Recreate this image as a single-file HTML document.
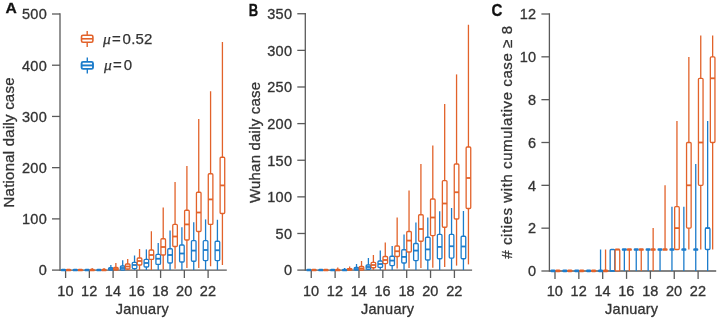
<!DOCTYPE html>
<html><head><meta charset="utf-8"><title>Figure</title>
<style>
html,body{margin:0;padding:0;background:#fff;}
body{width:720px;height:322px;overflow:hidden;position:relative;font-family:"Liberation Sans",sans-serif;}
</style></head><body>
<svg width="720" height="322" viewBox="0 0 720 322" style="position:absolute;left:0;top:0;will-change:transform"><rect width="720" height="322" fill="#fff"/><g stroke="#5a5a5a" stroke-width="1.3" fill="none"><line x1="60.0" y1="13.25" x2="60.0" y2="270.85"/><line x1="60.0" y1="270.1" x2="226.8" y2="270.1"/><line x1="52.0" y1="270.10" x2="60.0" y2="270.10"/><line x1="52.0" y1="218.88" x2="60.0" y2="218.88"/><line x1="52.0" y1="167.66" x2="60.0" y2="167.66"/><line x1="52.0" y1="116.44" x2="60.0" y2="116.44"/><line x1="52.0" y1="65.22" x2="60.0" y2="65.22"/><line x1="52.0" y1="14.00" x2="60.0" y2="14.00"/><line x1="65.60" y1="270.1" x2="65.60" y2="278.0"/><line x1="89.35" y1="270.1" x2="89.35" y2="278.0"/><line x1="113.10" y1="270.1" x2="113.10" y2="278.0"/><line x1="136.85" y1="270.1" x2="136.85" y2="278.0"/><line x1="160.60" y1="270.1" x2="160.60" y2="278.0"/><line x1="184.35" y1="270.1" x2="184.35" y2="278.0"/><line x1="208.10" y1="270.1" x2="208.10" y2="278.0"/></g><g font-family="Liberation Sans, sans-serif" font-size="14" fill="#333333" stroke="#333333" stroke-width="0.3"><text x="47.00" y="275.40" text-anchor="end" font-size="14.5" letter-spacing="0.3">0</text><text x="47.00" y="224.18" text-anchor="end" font-size="14.5" letter-spacing="0.3">100</text><text x="47.00" y="172.96" text-anchor="end" font-size="14.5" letter-spacing="0.3">200</text><text x="47.00" y="121.74" text-anchor="end" font-size="14.5" letter-spacing="0.3">300</text><text x="47.00" y="70.52" text-anchor="end" font-size="14.5" letter-spacing="0.3">400</text><text x="47.00" y="19.30" text-anchor="end" font-size="14.5" letter-spacing="0.3">500</text><text x="65.40" y="296.4" text-anchor="middle" font-size="14.5">10</text><text x="89.15" y="296.4" text-anchor="middle" font-size="14.5">12</text><text x="112.90" y="296.4" text-anchor="middle" font-size="14.5">14</text><text x="136.65" y="296.4" text-anchor="middle" font-size="14.5">16</text><text x="160.40" y="296.4" text-anchor="middle" font-size="14.5">18</text><text x="184.15" y="296.4" text-anchor="middle" font-size="14.5">20</text><text x="207.90" y="296.4" text-anchor="middle" font-size="14.5">22</text><text x="142.20" y="313.6" text-anchor="middle" font-size="14.5" textLength="53">January</text><text transform="translate(14.4,142.5) rotate(-90)" text-anchor="middle" font-size="15" textLength="130">National daily case</text></g><text x="5.6" y="13.1" font-family="Liberation Sans, sans-serif" font-weight="bold" font-size="15" fill="#111" stroke="#111" stroke-width="0.3" textLength="11.3" lengthAdjust="spacingAndGlyphs">A</text><rect x="60.95" y="268.65" width="5.1" height="2.7" rx="1.2" fill="#1c7ccb"/><rect x="65.95" y="268.65" width="5.1" height="2.7" rx="1.2" fill="#e2622a"/><rect x="72.79" y="268.65" width="5.1" height="2.7" rx="1.2" fill="#1c7ccb"/><rect x="77.79" y="268.65" width="5.1" height="2.7" rx="1.2" fill="#e2622a"/><rect x="84.63" y="268.65" width="5.1" height="2.7" rx="1.2" fill="#1c7ccb"/><line x1="92.18" y1="268.00" x2="92.18" y2="270.00" stroke="#e2622a" stroke-width="1.3"/><rect x="89.63" y="268.65" width="5.1" height="2.7" rx="1.2" fill="#e2622a"/><line x1="99.02" y1="269.00" x2="99.02" y2="270.00" stroke="#1c7ccb" stroke-width="1.3"/><rect x="96.47" y="268.65" width="5.1" height="2.7" rx="1.2" fill="#1c7ccb"/><line x1="104.02" y1="268.00" x2="104.02" y2="270.00" stroke="#e2622a" stroke-width="1.3"/><rect x="101.47" y="268.65" width="5.1" height="2.7" rx="1.2" fill="#e2622a"/><line x1="110.86" y1="265.00" x2="110.86" y2="267.75" stroke="#1c7ccb" stroke-width="1.3"/><rect x="108.56" y="267.75" width="4.6" height="2.25" rx="1" fill="#fff" stroke="#1c7ccb" stroke-width="1.3"/><line x1="108.56" y1="269.00" x2="113.16" y2="269.00" stroke="#1c7ccb" stroke-width="1.8"/><line x1="115.86" y1="263.00" x2="115.86" y2="267.40" stroke="#e2622a" stroke-width="1.3"/><rect x="113.56" y="267.40" width="4.6" height="2.60" rx="1" fill="#fff" stroke="#e2622a" stroke-width="1.3"/><line x1="113.56" y1="269.00" x2="118.16" y2="269.00" stroke="#e2622a" stroke-width="1.8"/><line x1="122.70" y1="260.25" x2="122.70" y2="266.00" stroke="#1c7ccb" stroke-width="1.3"/><rect x="120.40" y="266.00" width="4.6" height="4.00" rx="1" fill="#fff" stroke="#1c7ccb" stroke-width="1.3"/><line x1="120.40" y1="268.00" x2="125.00" y2="268.00" stroke="#1c7ccb" stroke-width="1.8"/><line x1="127.70" y1="259.00" x2="127.70" y2="264.00" stroke="#e2622a" stroke-width="1.3"/><line x1="127.70" y1="269.00" x2="127.70" y2="270.00" stroke="#e2622a" stroke-width="1.3"/><rect x="125.40" y="264.00" width="4.6" height="5.00" rx="1" fill="#fff" stroke="#e2622a" stroke-width="1.3"/><line x1="125.40" y1="266.50" x2="130.00" y2="266.50" stroke="#e2622a" stroke-width="1.8"/><line x1="134.54" y1="255.50" x2="134.54" y2="262.40" stroke="#1c7ccb" stroke-width="1.3"/><line x1="134.54" y1="268.60" x2="134.54" y2="270.00" stroke="#1c7ccb" stroke-width="1.3"/><rect x="132.24" y="262.40" width="4.6" height="6.20" rx="1" fill="#fff" stroke="#1c7ccb" stroke-width="1.3"/><line x1="132.24" y1="265.00" x2="136.84" y2="265.00" stroke="#1c7ccb" stroke-width="1.8"/><line x1="139.54" y1="249.00" x2="139.54" y2="258.00" stroke="#e2622a" stroke-width="1.3"/><line x1="139.54" y1="265.00" x2="139.54" y2="270.00" stroke="#e2622a" stroke-width="1.3"/><rect x="137.24" y="258.00" width="4.6" height="7.00" rx="1" fill="#fff" stroke="#e2622a" stroke-width="1.3"/><line x1="137.24" y1="261.00" x2="141.84" y2="261.00" stroke="#e2622a" stroke-width="1.8"/><line x1="146.38" y1="249.40" x2="146.38" y2="259.40" stroke="#1c7ccb" stroke-width="1.3"/><line x1="146.38" y1="267.00" x2="146.38" y2="270.00" stroke="#1c7ccb" stroke-width="1.3"/><rect x="144.08" y="259.40" width="4.6" height="7.60" rx="1" fill="#fff" stroke="#1c7ccb" stroke-width="1.3"/><line x1="144.08" y1="263.00" x2="148.68" y2="263.00" stroke="#1c7ccb" stroke-width="1.8"/><line x1="151.38" y1="231.25" x2="151.38" y2="250.00" stroke="#e2622a" stroke-width="1.3"/><line x1="151.38" y1="259.40" x2="151.38" y2="270.00" stroke="#e2622a" stroke-width="1.3"/><rect x="149.08" y="250.00" width="4.6" height="9.40" rx="1" fill="#fff" stroke="#e2622a" stroke-width="1.3"/><line x1="149.08" y1="255.00" x2="153.68" y2="255.00" stroke="#e2622a" stroke-width="1.8"/><line x1="158.22" y1="243.00" x2="158.22" y2="254.40" stroke="#1c7ccb" stroke-width="1.3"/><line x1="158.22" y1="264.40" x2="158.22" y2="270.00" stroke="#1c7ccb" stroke-width="1.3"/><rect x="155.92" y="254.40" width="4.6" height="10.00" rx="1" fill="#fff" stroke="#1c7ccb" stroke-width="1.3"/><line x1="155.92" y1="258.75" x2="160.52" y2="258.75" stroke="#1c7ccb" stroke-width="1.8"/><line x1="163.22" y1="207.50" x2="163.22" y2="238.75" stroke="#e2622a" stroke-width="1.3"/><line x1="163.22" y1="255.00" x2="163.22" y2="269.40" stroke="#e2622a" stroke-width="1.3"/><rect x="160.92" y="238.75" width="4.6" height="16.25" rx="1" fill="#fff" stroke="#e2622a" stroke-width="1.3"/><line x1="160.92" y1="247.00" x2="165.52" y2="247.00" stroke="#e2622a" stroke-width="1.8"/><line x1="170.06" y1="230.60" x2="170.06" y2="248.75" stroke="#1c7ccb" stroke-width="1.3"/><line x1="170.06" y1="263.00" x2="170.06" y2="270.00" stroke="#1c7ccb" stroke-width="1.3"/><rect x="167.76" y="248.75" width="4.6" height="14.25" rx="1" fill="#fff" stroke="#1c7ccb" stroke-width="1.3"/><line x1="167.76" y1="255.00" x2="172.36" y2="255.00" stroke="#1c7ccb" stroke-width="1.8"/><line x1="175.06" y1="182.00" x2="175.06" y2="224.40" stroke="#e2622a" stroke-width="1.3"/><line x1="175.06" y1="246.50" x2="175.06" y2="268.75" stroke="#e2622a" stroke-width="1.3"/><rect x="172.76" y="224.40" width="4.6" height="22.10" rx="1" fill="#fff" stroke="#e2622a" stroke-width="1.3"/><line x1="172.76" y1="236.50" x2="177.36" y2="236.50" stroke="#e2622a" stroke-width="1.8"/><line x1="181.90" y1="227.25" x2="181.90" y2="245.00" stroke="#1c7ccb" stroke-width="1.3"/><line x1="181.90" y1="262.00" x2="181.90" y2="270.00" stroke="#1c7ccb" stroke-width="1.3"/><rect x="179.60" y="245.00" width="4.6" height="17.00" rx="1" fill="#fff" stroke="#1c7ccb" stroke-width="1.3"/><line x1="179.60" y1="253.50" x2="184.20" y2="253.50" stroke="#1c7ccb" stroke-width="1.8"/><line x1="186.90" y1="166.00" x2="186.90" y2="210.25" stroke="#e2622a" stroke-width="1.3"/><line x1="186.90" y1="240.00" x2="186.90" y2="268.00" stroke="#e2622a" stroke-width="1.3"/><rect x="184.60" y="210.25" width="4.6" height="29.75" rx="1" fill="#fff" stroke="#e2622a" stroke-width="1.3"/><line x1="184.60" y1="224.40" x2="189.20" y2="224.40" stroke="#e2622a" stroke-width="1.8"/><line x1="193.74" y1="222.25" x2="193.74" y2="240.60" stroke="#1c7ccb" stroke-width="1.3"/><line x1="193.74" y1="261.25" x2="193.74" y2="270.00" stroke="#1c7ccb" stroke-width="1.3"/><rect x="191.44" y="240.60" width="4.6" height="20.65" rx="1" fill="#fff" stroke="#1c7ccb" stroke-width="1.3"/><line x1="191.44" y1="250.60" x2="196.04" y2="250.60" stroke="#1c7ccb" stroke-width="1.8"/><line x1="198.74" y1="119.00" x2="198.74" y2="192.25" stroke="#e2622a" stroke-width="1.3"/><line x1="198.74" y1="231.50" x2="198.74" y2="268.00" stroke="#e2622a" stroke-width="1.3"/><rect x="196.44" y="192.25" width="4.6" height="39.25" rx="1" fill="#fff" stroke="#e2622a" stroke-width="1.3"/><line x1="196.44" y1="212.50" x2="201.04" y2="212.50" stroke="#e2622a" stroke-width="1.8"/><line x1="205.58" y1="219.40" x2="205.58" y2="240.60" stroke="#1c7ccb" stroke-width="1.3"/><line x1="205.58" y1="260.60" x2="205.58" y2="270.00" stroke="#1c7ccb" stroke-width="1.3"/><rect x="203.28" y="240.60" width="4.6" height="20.00" rx="1" fill="#fff" stroke="#1c7ccb" stroke-width="1.3"/><line x1="203.28" y1="250.00" x2="207.88" y2="250.00" stroke="#1c7ccb" stroke-width="1.8"/><line x1="210.58" y1="91.25" x2="210.58" y2="173.75" stroke="#e2622a" stroke-width="1.3"/><line x1="210.58" y1="224.40" x2="210.58" y2="266.25" stroke="#e2622a" stroke-width="1.3"/><rect x="208.28" y="173.75" width="4.6" height="50.65" rx="1" fill="#fff" stroke="#e2622a" stroke-width="1.3"/><line x1="208.28" y1="199.40" x2="212.88" y2="199.40" stroke="#e2622a" stroke-width="1.8"/><line x1="217.42" y1="219.75" x2="217.42" y2="241.25" stroke="#1c7ccb" stroke-width="1.3"/><line x1="217.42" y1="260.60" x2="217.42" y2="270.00" stroke="#1c7ccb" stroke-width="1.3"/><rect x="215.12" y="241.25" width="4.6" height="19.35" rx="1" fill="#fff" stroke="#1c7ccb" stroke-width="1.3"/><line x1="215.12" y1="250.25" x2="219.72" y2="250.25" stroke="#1c7ccb" stroke-width="1.8"/><line x1="222.42" y1="42.00" x2="222.42" y2="157.25" stroke="#e2622a" stroke-width="1.3"/><line x1="222.42" y1="213.50" x2="222.42" y2="265.00" stroke="#e2622a" stroke-width="1.3"/><rect x="220.12" y="157.25" width="4.6" height="56.25" rx="1" fill="#fff" stroke="#e2622a" stroke-width="1.3"/><line x1="220.12" y1="185.40" x2="224.72" y2="185.40" stroke="#e2622a" stroke-width="1.8"/><g stroke="#5a5a5a" stroke-width="1.3" fill="none"><line x1="305.3" y1="13.0" x2="305.3" y2="270.85"/><line x1="305.3" y1="270.1" x2="472.1" y2="270.1"/><line x1="297.3" y1="270.10" x2="305.3" y2="270.10"/><line x1="297.3" y1="233.48" x2="305.3" y2="233.48"/><line x1="297.3" y1="196.86" x2="305.3" y2="196.86"/><line x1="297.3" y1="160.24" x2="305.3" y2="160.24"/><line x1="297.3" y1="123.61" x2="305.3" y2="123.61"/><line x1="297.3" y1="86.99" x2="305.3" y2="86.99"/><line x1="297.3" y1="50.37" x2="305.3" y2="50.37"/><line x1="297.3" y1="13.75" x2="305.3" y2="13.75"/><line x1="311.25" y1="270.1" x2="311.25" y2="278.0"/><line x1="335.11" y1="270.1" x2="335.11" y2="278.0"/><line x1="358.97" y1="270.1" x2="358.97" y2="278.0"/><line x1="382.83" y1="270.1" x2="382.83" y2="278.0"/><line x1="406.69" y1="270.1" x2="406.69" y2="278.0"/><line x1="430.55" y1="270.1" x2="430.55" y2="278.0"/><line x1="454.41" y1="270.1" x2="454.41" y2="278.0"/></g><g font-family="Liberation Sans, sans-serif" font-size="14" fill="#333333" stroke="#333333" stroke-width="0.3"><text x="292.30" y="275.40" text-anchor="end" font-size="14.5" letter-spacing="0.3">0</text><text x="292.30" y="238.78" text-anchor="end" font-size="14.5" letter-spacing="0.3">50</text><text x="292.30" y="202.16" text-anchor="end" font-size="14.5" letter-spacing="0.3">100</text><text x="292.30" y="165.54" text-anchor="end" font-size="14.5" letter-spacing="0.3">150</text><text x="292.30" y="128.91" text-anchor="end" font-size="14.5" letter-spacing="0.3">200</text><text x="292.30" y="92.29" text-anchor="end" font-size="14.5" letter-spacing="0.3">250</text><text x="292.30" y="55.67" text-anchor="end" font-size="14.5" letter-spacing="0.3">300</text><text x="292.30" y="19.05" text-anchor="end" font-size="14.5" letter-spacing="0.3">350</text><text x="311.05" y="296.4" text-anchor="middle" font-size="14.5">10</text><text x="334.91" y="296.4" text-anchor="middle" font-size="14.5">12</text><text x="358.77" y="296.4" text-anchor="middle" font-size="14.5">14</text><text x="382.63" y="296.4" text-anchor="middle" font-size="14.5">16</text><text x="406.49" y="296.4" text-anchor="middle" font-size="14.5">18</text><text x="430.35" y="296.4" text-anchor="middle" font-size="14.5">20</text><text x="454.21" y="296.4" text-anchor="middle" font-size="14.5">22</text><text x="387.50" y="313.6" text-anchor="middle" font-size="14.5" textLength="53">January</text><text transform="translate(259.7,142.5) rotate(-90)" text-anchor="middle" font-size="15" textLength="121.2">Wuhan daily case</text></g><text x="248.8" y="15.5" font-family="Liberation Sans, sans-serif" font-weight="bold" font-size="16" fill="#111" stroke="#111" stroke-width="0.3" textLength="9.4" lengthAdjust="spacingAndGlyphs">B</text><rect x="306.45" y="268.65" width="5.1" height="2.7" rx="1.2" fill="#1c7ccb"/><rect x="311.45" y="268.65" width="5.1" height="2.7" rx="1.2" fill="#e2622a"/><rect x="318.33" y="268.65" width="5.1" height="2.7" rx="1.2" fill="#1c7ccb"/><rect x="323.33" y="268.65" width="5.1" height="2.7" rx="1.2" fill="#e2622a"/><rect x="330.21" y="268.65" width="5.1" height="2.7" rx="1.2" fill="#1c7ccb"/><line x1="337.76" y1="267.40" x2="337.76" y2="270.00" stroke="#e2622a" stroke-width="1.3"/><rect x="335.21" y="268.65" width="5.1" height="2.7" rx="1.2" fill="#e2622a"/><line x1="344.64" y1="268.00" x2="344.64" y2="270.00" stroke="#1c7ccb" stroke-width="1.3"/><rect x="342.09" y="268.65" width="5.1" height="2.7" rx="1.2" fill="#1c7ccb"/><line x1="349.64" y1="266.50" x2="349.64" y2="268.60" stroke="#e2622a" stroke-width="1.3"/><rect x="347.34" y="268.60" width="4.6" height="1.40" rx="1" fill="#fff" stroke="#e2622a" stroke-width="1.3"/><line x1="347.34" y1="269.50" x2="351.94" y2="269.50" stroke="#e2622a" stroke-width="1.8"/><line x1="356.52" y1="264.00" x2="356.52" y2="267.40" stroke="#1c7ccb" stroke-width="1.3"/><rect x="354.22" y="267.40" width="4.6" height="2.60" rx="1" fill="#fff" stroke="#1c7ccb" stroke-width="1.3"/><line x1="354.22" y1="269.00" x2="358.82" y2="269.00" stroke="#1c7ccb" stroke-width="1.8"/><line x1="361.52" y1="261.00" x2="361.52" y2="266.50" stroke="#e2622a" stroke-width="1.3"/><rect x="359.22" y="266.50" width="4.6" height="3.50" rx="1" fill="#fff" stroke="#e2622a" stroke-width="1.3"/><line x1="359.22" y1="268.50" x2="363.82" y2="268.50" stroke="#e2622a" stroke-width="1.8"/><line x1="368.40" y1="258.00" x2="368.40" y2="265.00" stroke="#1c7ccb" stroke-width="1.3"/><line x1="368.40" y1="269.25" x2="368.40" y2="270.00" stroke="#1c7ccb" stroke-width="1.3"/><rect x="366.10" y="265.00" width="4.6" height="4.25" rx="1" fill="#fff" stroke="#1c7ccb" stroke-width="1.3"/><line x1="366.10" y1="267.00" x2="370.70" y2="267.00" stroke="#1c7ccb" stroke-width="1.8"/><line x1="373.40" y1="255.00" x2="373.40" y2="262.40" stroke="#e2622a" stroke-width="1.3"/><line x1="373.40" y1="267.75" x2="373.40" y2="270.00" stroke="#e2622a" stroke-width="1.3"/><rect x="371.10" y="262.40" width="4.6" height="5.35" rx="1" fill="#fff" stroke="#e2622a" stroke-width="1.3"/><line x1="371.10" y1="265.00" x2="375.70" y2="265.00" stroke="#e2622a" stroke-width="1.8"/><line x1="380.28" y1="250.50" x2="380.28" y2="261.00" stroke="#1c7ccb" stroke-width="1.3"/><line x1="380.28" y1="267.40" x2="380.28" y2="270.00" stroke="#1c7ccb" stroke-width="1.3"/><rect x="377.98" y="261.00" width="4.6" height="6.40" rx="1" fill="#fff" stroke="#1c7ccb" stroke-width="1.3"/><line x1="377.98" y1="264.00" x2="382.58" y2="264.00" stroke="#1c7ccb" stroke-width="1.8"/><line x1="385.28" y1="242.40" x2="385.28" y2="256.50" stroke="#e2622a" stroke-width="1.3"/><line x1="385.28" y1="263.60" x2="385.28" y2="270.00" stroke="#e2622a" stroke-width="1.3"/><rect x="382.98" y="256.50" width="4.6" height="7.10" rx="1" fill="#fff" stroke="#e2622a" stroke-width="1.3"/><line x1="382.98" y1="260.00" x2="387.58" y2="260.00" stroke="#e2622a" stroke-width="1.8"/><line x1="392.16" y1="246.00" x2="392.16" y2="256.25" stroke="#1c7ccb" stroke-width="1.3"/><line x1="392.16" y1="265.60" x2="392.16" y2="270.00" stroke="#1c7ccb" stroke-width="1.3"/><rect x="389.86" y="256.25" width="4.6" height="9.35" rx="1" fill="#fff" stroke="#1c7ccb" stroke-width="1.3"/><line x1="389.86" y1="260.60" x2="394.46" y2="260.60" stroke="#1c7ccb" stroke-width="1.8"/><line x1="397.16" y1="217.50" x2="397.16" y2="246.00" stroke="#e2622a" stroke-width="1.3"/><line x1="397.16" y1="256.50" x2="397.16" y2="268.50" stroke="#e2622a" stroke-width="1.3"/><rect x="394.86" y="246.00" width="4.6" height="10.50" rx="1" fill="#fff" stroke="#e2622a" stroke-width="1.3"/><line x1="394.86" y1="251.25" x2="399.46" y2="251.25" stroke="#e2622a" stroke-width="1.8"/><line x1="404.04" y1="234.40" x2="404.04" y2="249.75" stroke="#1c7ccb" stroke-width="1.3"/><line x1="404.04" y1="263.00" x2="404.04" y2="270.00" stroke="#1c7ccb" stroke-width="1.3"/><rect x="401.74" y="249.75" width="4.6" height="13.25" rx="1" fill="#fff" stroke="#1c7ccb" stroke-width="1.3"/><line x1="401.74" y1="256.90" x2="406.34" y2="256.90" stroke="#1c7ccb" stroke-width="1.8"/><line x1="409.04" y1="190.60" x2="409.04" y2="231.50" stroke="#e2622a" stroke-width="1.3"/><line x1="409.04" y1="252.00" x2="409.04" y2="268.00" stroke="#e2622a" stroke-width="1.3"/><rect x="406.74" y="231.50" width="4.6" height="20.50" rx="1" fill="#fff" stroke="#e2622a" stroke-width="1.3"/><line x1="406.74" y1="240.60" x2="411.34" y2="240.60" stroke="#e2622a" stroke-width="1.8"/><line x1="415.92" y1="222.50" x2="415.92" y2="243.50" stroke="#1c7ccb" stroke-width="1.3"/><line x1="415.92" y1="260.60" x2="415.92" y2="270.00" stroke="#1c7ccb" stroke-width="1.3"/><rect x="413.62" y="243.50" width="4.6" height="17.10" rx="1" fill="#fff" stroke="#1c7ccb" stroke-width="1.3"/><line x1="413.62" y1="250.60" x2="418.22" y2="250.60" stroke="#1c7ccb" stroke-width="1.8"/><line x1="420.92" y1="164.00" x2="420.92" y2="214.75" stroke="#e2622a" stroke-width="1.3"/><line x1="420.92" y1="241.25" x2="420.92" y2="268.00" stroke="#e2622a" stroke-width="1.3"/><rect x="418.62" y="214.75" width="4.6" height="26.50" rx="1" fill="#fff" stroke="#e2622a" stroke-width="1.3"/><line x1="418.62" y1="229.00" x2="423.22" y2="229.00" stroke="#e2622a" stroke-width="1.8"/><line x1="427.80" y1="217.50" x2="427.80" y2="237.25" stroke="#1c7ccb" stroke-width="1.3"/><line x1="427.80" y1="260.00" x2="427.80" y2="270.00" stroke="#1c7ccb" stroke-width="1.3"/><rect x="425.50" y="237.25" width="4.6" height="22.75" rx="1" fill="#fff" stroke="#1c7ccb" stroke-width="1.3"/><line x1="425.50" y1="249.40" x2="430.10" y2="249.40" stroke="#1c7ccb" stroke-width="1.8"/><line x1="432.80" y1="145.60" x2="432.80" y2="199.00" stroke="#e2622a" stroke-width="1.3"/><line x1="432.80" y1="235.60" x2="432.80" y2="267.75" stroke="#e2622a" stroke-width="1.3"/><rect x="430.50" y="199.00" width="4.6" height="36.60" rx="1" fill="#fff" stroke="#e2622a" stroke-width="1.3"/><line x1="430.50" y1="217.50" x2="435.10" y2="217.50" stroke="#e2622a" stroke-width="1.8"/><line x1="439.68" y1="211.25" x2="439.68" y2="234.40" stroke="#1c7ccb" stroke-width="1.3"/><line x1="439.68" y1="258.75" x2="439.68" y2="270.00" stroke="#1c7ccb" stroke-width="1.3"/><rect x="437.38" y="234.40" width="4.6" height="24.35" rx="1" fill="#fff" stroke="#1c7ccb" stroke-width="1.3"/><line x1="437.38" y1="246.90" x2="441.98" y2="246.90" stroke="#1c7ccb" stroke-width="1.8"/><line x1="444.68" y1="104.00" x2="444.68" y2="180.60" stroke="#e2622a" stroke-width="1.3"/><line x1="444.68" y1="227.25" x2="444.68" y2="267.00" stroke="#e2622a" stroke-width="1.3"/><rect x="442.38" y="180.60" width="4.6" height="46.65" rx="1" fill="#fff" stroke="#e2622a" stroke-width="1.3"/><line x1="442.38" y1="203.50" x2="446.98" y2="203.50" stroke="#e2622a" stroke-width="1.8"/><line x1="451.56" y1="208.00" x2="451.56" y2="234.40" stroke="#1c7ccb" stroke-width="1.3"/><line x1="451.56" y1="258.10" x2="451.56" y2="270.00" stroke="#1c7ccb" stroke-width="1.3"/><rect x="449.26" y="234.40" width="4.6" height="23.70" rx="1" fill="#fff" stroke="#1c7ccb" stroke-width="1.3"/><line x1="449.26" y1="246.25" x2="453.86" y2="246.25" stroke="#1c7ccb" stroke-width="1.8"/><line x1="456.56" y1="74.40" x2="456.56" y2="164.00" stroke="#e2622a" stroke-width="1.3"/><line x1="456.56" y1="219.00" x2="456.56" y2="265.60" stroke="#e2622a" stroke-width="1.3"/><rect x="454.26" y="164.00" width="4.6" height="55.00" rx="1" fill="#fff" stroke="#e2622a" stroke-width="1.3"/><line x1="454.26" y1="192.25" x2="458.86" y2="192.25" stroke="#e2622a" stroke-width="1.8"/><line x1="463.44" y1="211.00" x2="463.44" y2="236.25" stroke="#1c7ccb" stroke-width="1.3"/><line x1="463.44" y1="258.75" x2="463.44" y2="270.00" stroke="#1c7ccb" stroke-width="1.3"/><rect x="461.14" y="236.25" width="4.6" height="22.50" rx="1" fill="#fff" stroke="#1c7ccb" stroke-width="1.3"/><line x1="461.14" y1="246.50" x2="465.74" y2="246.50" stroke="#1c7ccb" stroke-width="1.8"/><line x1="468.44" y1="24.75" x2="468.44" y2="147.00" stroke="#e2622a" stroke-width="1.3"/><line x1="468.44" y1="208.50" x2="468.44" y2="264.40" stroke="#e2622a" stroke-width="1.3"/><rect x="466.14" y="147.00" width="4.6" height="61.50" rx="1" fill="#fff" stroke="#e2622a" stroke-width="1.3"/><line x1="466.14" y1="178.00" x2="470.74" y2="178.00" stroke="#e2622a" stroke-width="1.8"/><g stroke="#5a5a5a" stroke-width="1.3" fill="none"><line x1="549.4" y1="13.25" x2="549.4" y2="271.75"/><line x1="549.4" y1="271.0" x2="716.2" y2="271.0"/><line x1="541.4" y1="271.00" x2="549.4" y2="271.00"/><line x1="541.4" y1="228.17" x2="549.4" y2="228.17"/><line x1="541.4" y1="185.33" x2="549.4" y2="185.33"/><line x1="541.4" y1="142.50" x2="549.4" y2="142.50"/><line x1="541.4" y1="99.67" x2="549.4" y2="99.67"/><line x1="541.4" y1="56.83" x2="549.4" y2="56.83"/><line x1="541.4" y1="14.00" x2="549.4" y2="14.00"/><line x1="555.00" y1="271.0" x2="555.00" y2="278.9"/><line x1="578.85" y1="271.0" x2="578.85" y2="278.9"/><line x1="602.70" y1="271.0" x2="602.70" y2="278.9"/><line x1="626.55" y1="271.0" x2="626.55" y2="278.9"/><line x1="650.40" y1="271.0" x2="650.40" y2="278.9"/><line x1="674.25" y1="271.0" x2="674.25" y2="278.9"/><line x1="698.10" y1="271.0" x2="698.10" y2="278.9"/></g><g font-family="Liberation Sans, sans-serif" font-size="14" fill="#333333" stroke="#333333" stroke-width="0.3"><text x="536.40" y="276.30" text-anchor="end" font-size="14.5" letter-spacing="0.3">0</text><text x="536.40" y="233.47" text-anchor="end" font-size="14.5" letter-spacing="0.3">2</text><text x="536.40" y="190.63" text-anchor="end" font-size="14.5" letter-spacing="0.3">4</text><text x="536.40" y="147.80" text-anchor="end" font-size="14.5" letter-spacing="0.3">6</text><text x="536.40" y="104.97" text-anchor="end" font-size="14.5" letter-spacing="0.3">8</text><text x="536.40" y="62.13" text-anchor="end" font-size="14.5" letter-spacing="0.3">10</text><text x="536.40" y="19.30" text-anchor="end" font-size="14.5" letter-spacing="0.3">12</text><text x="554.80" y="296.4" text-anchor="middle" font-size="14.5">10</text><text x="578.65" y="296.4" text-anchor="middle" font-size="14.5">12</text><text x="602.50" y="296.4" text-anchor="middle" font-size="14.5">14</text><text x="626.35" y="296.4" text-anchor="middle" font-size="14.5">16</text><text x="650.20" y="296.4" text-anchor="middle" font-size="14.5">18</text><text x="674.05" y="296.4" text-anchor="middle" font-size="14.5">20</text><text x="697.90" y="296.4" text-anchor="middle" font-size="14.5">22</text><text x="631.60" y="313.6" text-anchor="middle" font-size="14.5" textLength="53">January</text><text transform="translate(512.1,142.4) rotate(-90)" text-anchor="middle" font-size="15" textLength="232.75"># cities with cumulative case ≥ 8</text></g><text x="491.6" y="15.5" font-family="Liberation Sans, sans-serif" font-weight="bold" font-size="16" fill="#111" stroke="#111" stroke-width="0.3" textLength="10.9" lengthAdjust="spacingAndGlyphs">C</text><rect x="550.40" y="269.55" width="5.1" height="2.7" rx="1.2" fill="#1c7ccb"/><rect x="555.40" y="269.55" width="5.1" height="2.7" rx="1.2" fill="#e2622a"/><rect x="562.30" y="269.55" width="5.1" height="2.7" rx="1.2" fill="#1c7ccb"/><rect x="567.30" y="269.55" width="5.1" height="2.7" rx="1.2" fill="#e2622a"/><rect x="574.20" y="269.55" width="5.1" height="2.7" rx="1.2" fill="#1c7ccb"/><rect x="579.20" y="269.55" width="5.1" height="2.7" rx="1.2" fill="#e2622a"/><rect x="586.10" y="269.55" width="5.1" height="2.7" rx="1.2" fill="#1c7ccb"/><rect x="591.10" y="269.55" width="5.1" height="2.7" rx="1.2" fill="#e2622a"/><line x1="600.55" y1="249.50" x2="600.55" y2="270.90" stroke="#1c7ccb" stroke-width="1.3"/><rect x="598.00" y="269.55" width="5.1" height="2.7" rx="1.2" fill="#1c7ccb"/><line x1="605.55" y1="249.50" x2="605.55" y2="270.90" stroke="#e2622a" stroke-width="1.3"/><rect x="603.00" y="269.55" width="5.1" height="2.7" rx="1.2" fill="#e2622a"/><rect x="610.15" y="249.50" width="4.6" height="21.40" rx="1" fill="#fff" stroke="#1c7ccb" stroke-width="1.3"/><line x1="610.15" y1="270.90" x2="614.75" y2="270.90" stroke="#1c7ccb" stroke-width="1.8"/><rect x="615.15" y="249.50" width="4.6" height="21.40" rx="1" fill="#fff" stroke="#e2622a" stroke-width="1.3"/><line x1="615.15" y1="249.50" x2="619.75" y2="249.50" stroke="#e2622a" stroke-width="1.8"/><line x1="624.35" y1="249.50" x2="624.35" y2="270.90" stroke="#1c7ccb" stroke-width="1.3"/><rect x="621.80" y="248.15" width="5.1" height="2.7" rx="1.2" fill="#1c7ccb"/><line x1="629.35" y1="249.50" x2="629.35" y2="270.90" stroke="#e2622a" stroke-width="1.3"/><rect x="626.80" y="248.15" width="5.1" height="2.7" rx="1.2" fill="#e2622a"/><line x1="636.25" y1="249.50" x2="636.25" y2="270.90" stroke="#1c7ccb" stroke-width="1.3"/><rect x="633.70" y="248.15" width="5.1" height="2.7" rx="1.2" fill="#1c7ccb"/><line x1="641.25" y1="249.50" x2="641.25" y2="270.90" stroke="#e2622a" stroke-width="1.3"/><rect x="638.70" y="248.15" width="5.1" height="2.7" rx="1.2" fill="#e2622a"/><line x1="648.15" y1="249.50" x2="648.15" y2="270.90" stroke="#1c7ccb" stroke-width="1.3"/><rect x="645.60" y="248.15" width="5.1" height="2.7" rx="1.2" fill="#1c7ccb"/><line x1="653.15" y1="228.10" x2="653.15" y2="249.50" stroke="#e2622a" stroke-width="1.3"/><line x1="653.15" y1="249.50" x2="653.15" y2="270.90" stroke="#e2622a" stroke-width="1.3"/><rect x="650.60" y="248.15" width="5.1" height="2.7" rx="1.2" fill="#e2622a"/><line x1="660.05" y1="249.50" x2="660.05" y2="270.90" stroke="#1c7ccb" stroke-width="1.3"/><rect x="657.50" y="248.15" width="5.1" height="2.7" rx="1.2" fill="#1c7ccb"/><line x1="665.05" y1="185.30" x2="665.05" y2="249.50" stroke="#e2622a" stroke-width="1.3"/><rect x="662.50" y="248.15" width="5.1" height="2.7" rx="1.2" fill="#e2622a"/><line x1="671.95" y1="206.70" x2="671.95" y2="249.50" stroke="#1c7ccb" stroke-width="1.3"/><line x1="671.95" y1="249.50" x2="671.95" y2="270.90" stroke="#1c7ccb" stroke-width="1.3"/><rect x="669.40" y="248.15" width="5.1" height="2.7" rx="1.2" fill="#1c7ccb"/><line x1="676.95" y1="121.10" x2="676.95" y2="206.70" stroke="#e2622a" stroke-width="1.3"/><rect x="674.65" y="206.70" width="4.6" height="42.80" rx="1" fill="#fff" stroke="#e2622a" stroke-width="1.3"/><line x1="674.65" y1="228.10" x2="679.25" y2="228.10" stroke="#e2622a" stroke-width="1.8"/><line x1="683.85" y1="206.70" x2="683.85" y2="249.50" stroke="#1c7ccb" stroke-width="1.3"/><line x1="683.85" y1="249.50" x2="683.85" y2="270.90" stroke="#1c7ccb" stroke-width="1.3"/><rect x="681.30" y="248.15" width="5.1" height="2.7" rx="1.2" fill="#1c7ccb"/><line x1="688.85" y1="56.90" x2="688.85" y2="142.50" stroke="#e2622a" stroke-width="1.3"/><line x1="688.85" y1="228.10" x2="688.85" y2="249.50" stroke="#e2622a" stroke-width="1.3"/><rect x="686.55" y="142.50" width="4.6" height="85.60" rx="1" fill="#fff" stroke="#e2622a" stroke-width="1.3"/><line x1="686.55" y1="185.30" x2="691.15" y2="185.30" stroke="#e2622a" stroke-width="1.8"/><line x1="695.75" y1="163.90" x2="695.75" y2="249.50" stroke="#1c7ccb" stroke-width="1.3"/><line x1="695.75" y1="249.50" x2="695.75" y2="270.90" stroke="#1c7ccb" stroke-width="1.3"/><rect x="693.20" y="248.15" width="5.1" height="2.7" rx="1.2" fill="#1c7ccb"/><line x1="700.75" y1="35.50" x2="700.75" y2="78.30" stroke="#e2622a" stroke-width="1.3"/><line x1="700.75" y1="185.30" x2="700.75" y2="249.50" stroke="#e2622a" stroke-width="1.3"/><rect x="698.45" y="78.30" width="4.6" height="107.00" rx="1" fill="#fff" stroke="#e2622a" stroke-width="1.3"/><line x1="698.45" y1="142.50" x2="703.05" y2="142.50" stroke="#e2622a" stroke-width="1.8"/><line x1="707.65" y1="121.10" x2="707.65" y2="228.10" stroke="#1c7ccb" stroke-width="1.3"/><line x1="707.65" y1="249.50" x2="707.65" y2="270.90" stroke="#1c7ccb" stroke-width="1.3"/><rect x="705.35" y="228.10" width="4.6" height="21.40" rx="1" fill="#fff" stroke="#1c7ccb" stroke-width="1.3"/><line x1="705.35" y1="228.10" x2="709.95" y2="228.10" stroke="#1c7ccb" stroke-width="1.8"/><line x1="712.65" y1="35.50" x2="712.65" y2="56.90" stroke="#e2622a" stroke-width="1.3"/><line x1="712.65" y1="142.50" x2="712.65" y2="249.50" stroke="#e2622a" stroke-width="1.3"/><rect x="710.35" y="56.90" width="4.6" height="85.60" rx="1" fill="#fff" stroke="#e2622a" stroke-width="1.3"/><line x1="710.35" y1="78.30" x2="714.95" y2="78.30" stroke="#e2622a" stroke-width="1.8"/><line x1="87.2" y1="30.999999999999996" x2="87.2" y2="47.0" stroke="#e2622a" stroke-width="1.4"/><rect x="81.5" y="35.3" width="11.4" height="7.0" rx="1.5" fill="#fff" stroke="#e2622a" stroke-width="1.6"/><line x1="81.5" y1="38.8" x2="92.9" y2="38.8" stroke="#e2622a" stroke-width="1.6"/><line x1="87.3" y1="57.60000000000001" x2="87.3" y2="73.60000000000001" stroke="#1c7ccb" stroke-width="1.4"/><rect x="81.6" y="61.900000000000006" width="11.4" height="7.0" rx="1.5" fill="#fff" stroke="#1c7ccb" stroke-width="1.9"/><line x1="81.6" y1="65.4" x2="93.0" y2="65.4" stroke="#1c7ccb" stroke-width="1.9"/><text y="43.6" font-family="Liberation Sans, sans-serif" font-size="15" fill="#333333" stroke="#333333" stroke-width="0.25"><tspan x="102.9" font-family="Liberation Serif, serif" font-style="italic" font-size="15.5">μ</tspan><tspan x="111.9">=</tspan><tspan x="122.6" letter-spacing="0.2">0.52</tspan></text><text y="69.6" font-family="Liberation Sans, sans-serif" font-size="15" fill="#333333" stroke="#333333" stroke-width="0.25"><tspan x="104.10000000000001" font-family="Liberation Serif, serif" font-style="italic" font-size="15.5">μ</tspan><tspan x="113.10000000000001">=</tspan><tspan x="123.8" letter-spacing="0.2">0</tspan></text></svg>
</body></html>
